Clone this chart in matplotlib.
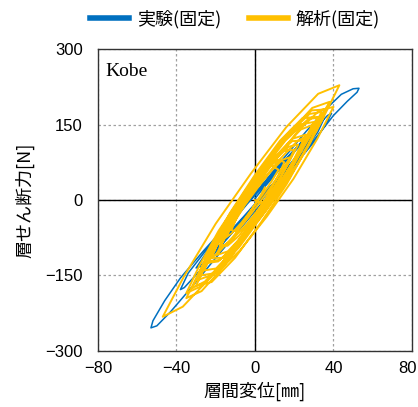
import matplotlib
matplotlib.use('Agg')
import matplotlib.pyplot as plt
import matplotlib.transforms as mtransforms

exp_x = [0, 6, 14, 22, 28,
         24, 14, 2, -10, -20, -26,
         -23, -14, -2, 10, 22, 32, 40, 47, 52, 53,
         50, 44, 36, 26, 14, 2, -12, -26, -38, -46, -52, -53,
         -50, -43, -32, -20, -6, 8, 20, 30, 36, 39,
         37, 30, 18, 4, -10, -24, -34, -38,
         -36, -28, -16, -2, 12, 24, 32, 35,
         34, 28, 16, 2, -12, -24, -30,
         -28, -20, -8, 6, 18, 26, 30,
         29, 22, 10, -4, -14, -18,
         -15, -6, 4, 12, 15,
         12, 4, 0]
exp_y = [-5, 18, 52, 92, 125,
         115, 75, 22, -32, -80, -115,
         -110, -75, -22, 30, 82, 128, 168, 196, 214, 222,
         221, 210, 180, 136, 80, 22, -40, -100, -155, -200, -240, -254,
         -250, -222, -172, -115, -50, 15, 68, 115, 150, 172,
         168, 140, 90, 30, -32, -95, -145, -178,
         -174, -140, -85, -22, 38, 92, 135, 160,
         158, 134, 82, 22, -42, -100, -135,
         -132, -98, -45, 15, 68, 108, 132,
         130, 104, 52, -8, -55, -80,
         -72, -34, 10, 45, 62,
         58, 22, 3]

# analysis (yellow) hysteresis trace
ana_x = [0, 3, 7.5, 12.5, 17.5, 22, 25,
         19, 10, 0, -10, -19, -25,
         -17.8, -7, 5, 17, 27.8, 35,
         27.2, 15.5, 2.5, -10.5, -22.2, -30,
         -21.2, -8.1, 6.5, 21.1, 34.2, 43,
         32.2, 16, -2, -20, -36.2, -47,
         -36.8, -21.5, -4.5, 12.5, 27.8, 38,
         29.2, 16.1, 1.5, -13.1, -26.2, -35,
         -27.2, -15.5, -2.5, 10.5, 22.2, 30,
         23, 12.6, 1, -10.6, -21, -28,
         -19.8, -7.6, 6, 19.6, 31.8, 40,
         32.8, 22, 10, -2, -12.8, -20,
         -13.8, -4.4, 6, 16.4, 25.8, 32,
         24.3, 12.8, 0, -12.8, -24.3, -32,
         -25.5, -15.8, -5, 5.8, 15.5, 22,
         17.2, 10, 2, -6, -13.2, -18,
         -12.5, -4.2, 5, 14.2, 22.5, 28,
         21.8, 12.4, 2, -8.4, -17.8, -24,
         -19, -11.4, -3, 5.4, 13, 18,
         14, 8.1, 1.5, -5.1, -11, -15,
         -11.8, -6.9, -1.5, 3.9, 8.8, 12,
         7.9, 1.8, -5, -11.8, -17.9, -22,
         -15.8, -6.4, 4, 14.4, 23.8, 30,
         23.3, 13.2, 2, -9.2, -19.3, -26,
         -19.8, -10.4, 0, 10.4, 19.8, 26,
         19.3, 9.2, -2, -13.2, -23.3, -30,
         -22.1, -10.2, 3, 16.2, 28.1, 36,
         28.8, 18, 6, -6, -16.8, -24,
         -18.7, -10.8, -2, 6.8, 14.7, 20,
         13.4, 3.5, -7.5, -18.5, -28.4, -35,
         -26.7, -14.3, -0.5, 13.3, 25.7, 34,
         27.8, 18.4, 8, -2.4, -11.8, -18,
         -14, -8.1, -1.5, 5.1, 11, 15,
         11.8, 6.9, 1.5, -3.9, -8.8, -12,
         -10, -7, -3.5, 0, 3, 5]
ana_y = [0, -7, 5, 29, 57, 90, 118,
         117, 86, 38, -16, -75, -122,
         -119, -81, -24, 41, 111, 165,
         161, 118, 53, -20, -98, -160,
         -148, -94, -16, 69, 159, 228,
         211, 145, 53, -47, -152, -232,
         -212, -149, -64, 29, 124, 195,
         183, 128, 50, -36, -126, -195,
         -181, -130, -60, 16, 95, 155,
         150, 109, 48, -20, -93, -150,
         -145, -100, -33, 42, 122, 185,
         178, 137, 78, 13, -57, -110,
         -102, -63, -8, 53, 116, 165,
         163, 118, 50, -26, -109, -175,
         -162, -120, -62, -1, 62, 110,
         106, 79, 38, -8, -57, -95,
         -82, -48, -2, 45, 94, 130,
         118, 80, 30, -24, -79, -120,
         -106, -74, -33, 11, 54, 85,
         80, 57, 25, -10, -47, -75,
         -66, -45, -18, 11, 39, 60,
         70, 53, 18, -24, -74, -115,
         -115, -80, -28, 32, 98, 150,
         140, 98, 40, -23, -89, -140,
         -136, -99, -45, 15, 80, 130,
         122, 80, 20, -46, -116, -170,
         -163, -115, -45, 32, 115, 180,
         178, 138, 77, 9, -66, -125,
         -122, -92, -48, 3, 57, 100,
         97, 60, 3, -61, -131, -185,
         -170, -117, -45, 33, 114, 175,
         171, 136, 83, 24, -40, -90,
         -91, -71, -38, 0, 42, 75,
         80, 65, 38, 6, -30, -60,
         -62, -50, -30, -8, 10, 25]

xticks = [-80, -40, 0, 40, 80]
yticks = [-300, -150, 0, 150, 300]

plt.rcParams['font.family'] = ['Liberation Sans', 'Noto Sans CJK JP', 'DejaVu Sans']

fig = plt.figure(figsize=(4.18, 4.07), dpi=100)
ax = fig.add_axes([0.2344, 0.1376, 0.7512, 0.742])

ax.plot(exp_x, exp_y, color='#0070C0', lw=1.1, label='実験(固定)', zorder=3)
ax.plot(ana_x, ana_y, color='#FFC000', lw=1.4, label='解析(固定)', zorder=4)

ax.set_xlim(-80, 80)
ax.set_ylim(-300, 300)
ax.set_xticks(xticks)
ax.set_yticks(yticks)
ax.tick_params(length=0, labelsize=12)
ax.tick_params(axis='x', pad=7)
ax.tick_params(axis='y', pad=11)
ax.grid(True, color='#A0A0A0', ls=(0, (2, 2)), lw=0.9)
ax.axhline(0, color='black', lw=1.0, zorder=2)
ax.axvline(0, color='black', lw=1.0, zorder=2)
for s in ax.spines.values():
    s.set_color('#333333')
    s.set_linewidth(1.0)

# keep the last x tick label inside the image
last = ax.get_xticklabels()[-1]
last.set_transform(last.get_transform() +
                   mtransforms.ScaledTranslation(-4 / 100, 0, fig.dpi_scale_trans))

ax.text(0.025, 0.955, 'Kobe', transform=ax.transAxes, family='Liberation Serif',
        fontsize=14, va='top', ha='left')

ax.set_xlabel('層間変位[㎜]', fontsize=13, labelpad=4,
              family=['Noto Sans CJK JP', 'DejaVu Sans'])
ax.set_ylabel('層せん断力[N]', fontsize=13, labelpad=8,
              family=['Noto Sans CJK JP', 'DejaVu Sans'])

leg = fig.legend(loc='center', bbox_to_anchor=(0.562, 0.953), ncol=2, frameon=False,
                 prop={'family': ['Noto Sans CJK JP', 'DejaVu Sans'], 'size': 13},
                 handlelength=2.15, columnspacing=1.55, handletextpad=0.45)
for h in leg.get_lines():
    h.set_linewidth(4)

fig.savefig('out.png', dpi=100)
